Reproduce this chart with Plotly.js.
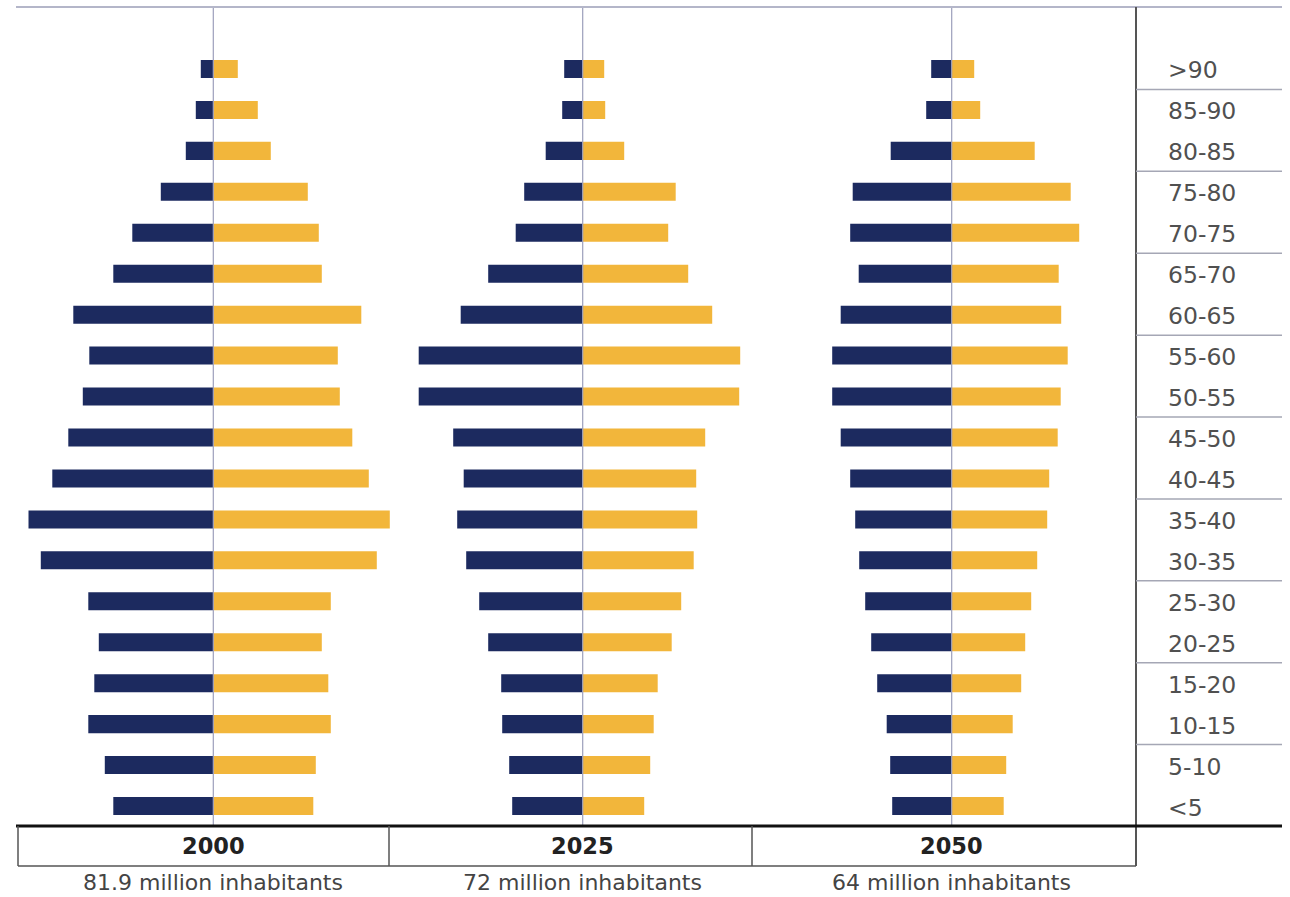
<!DOCTYPE html>
<html>
<head>
<meta charset="utf-8">
<script src="https://cdn.plot.ly/plotly-3.0.1.min.js"></script>
<style>
  html, body { margin: 0; padding: 0; background: #ffffff; }
  #chart { width: 1290px; height: 897px; }
</style>
</head>
<body>
<div id="chart"></div>
<script>
// Age groups, oldest at the top
const ageGroups = [">90", "85-90", "80-85", "75-80", "70-75", "65-70", "60-65", "55-60", "50-55",
  "45-50", "40-45", "35-40", "30-35", "25-30", "20-25", "15-20", "10-15", "5-10", "<5"];

// Population per age group, in thousands (left side / right side of each pyramid)
const men2000   = [250, 350, 550, 1050, 1620, 2000, 2800, 2480, 2610, 2900, 3220, 3700, 3450, 2500, 2290, 2380, 2500, 2170, 2000];
const women2000 = [490, 890, 1150, 1890, 2110, 2170, 2960, 2490, 2530, 2780, 3110, 3530, 3270, 2350, 2170, 2300, 2350, 2050, 2000];
const men2025   = [370, 410, 740, 1170, 1340, 1890, 2440, 3280, 3280, 2590, 2380, 2510, 2330, 2070, 1890, 1630, 1610, 1470, 1410];
const women2025 = [430, 450, 830, 1860, 1710, 2110, 2590, 3150, 3130, 2450, 2270, 2290, 2220, 1970, 1780, 1500, 1420, 1350, 1230];
const men2050   = [410, 510, 1220, 1980, 2030, 1860, 2220, 2390, 2390, 2220, 2030, 1930, 1850, 1730, 1610, 1490, 1300, 1230, 1190];
const women2050 = [450, 570, 1660, 2380, 2550, 2140, 2190, 2320, 2180, 2120, 1950, 1910, 1710, 1590, 1470, 1390, 1220, 1090, 1040];

const years = ["2000", "2025", "2050"];
const totals = ["81.9 million inhabitants", "72 million inhabitants", "64 million inhabitants"];

const W = 1290, H = 897;
const NAVY = "#1c2a5f", GOLD = "#f2b63b";
const fx = px => px / W;
const fy = py => 1 - py / H;

const series = [[men2000, women2000], [men2025, women2025], [men2050, women2050]];
const axisIds = ["x", "x2", "x3"];
const centers = [213.3, 582.7, 951.7];
const half = 185;
const RANGE = 3700;

const traces = [];
series.forEach(([m, w], i) => {
  traces.push({
    type: "bar", orientation: "h", xaxis: axisIds[i], yaxis: "y",
    y: ageGroups, x: m.map(v => -v), width: 0.44,
    marker: { color: NAVY }, hoverinfo: "skip", showlegend: false
  });
  traces.push({
    type: "bar", orientation: "h", xaxis: axisIds[i], yaxis: "y",
    y: ageGroups, x: w, width: 0.44,
    marker: { color: GOLD }, hoverinfo: "skip", showlegend: false
  });
});

const xBase = {
  range: [-RANGE, RANGE], showgrid: false, zeroline: false,
  showticklabels: false, ticks: "", showline: false, fixedrange: true
};

const layout = {
  width: W, height: H,
  margin: { l: 0, r: 0, t: 0, b: 0 },
  paper_bgcolor: "#ffffff", plot_bgcolor: "rgba(0,0,0,0)",
  barmode: "relative",
  showlegend: false,
  font: { family: "DejaVu Sans, sans-serif", color: "#444" },
  yaxis: {
    type: "category", categoryarray: ageGroups, categoryorder: "array",
    range: [18.5, -0.5], domain: [fy(826.5), fy(48.5)],
    showgrid: false, zeroline: false, showticklabels: false, ticks: "", showline: false
  },
  shapes: [],
  annotations: []
};

axisIds.forEach((id, i) => {
  const key = i === 0 ? "xaxis" : "xaxis" + (i + 1);
  layout[key] = Object.assign({}, xBase, {
    domain: [fx(centers[i] - half), fx(centers[i] + half)], anchor: "y"
  });
  // centre line of each pyramid
  layout.shapes.push({
    type: "line", xref: id, yref: "paper", x0: 0, x1: 0, y0: fy(7), y1: fy(826),
    line: { color: "#9c9fbb", width: 1.2 }, layer: "above"
  });
  // year caption and total population
  layout.annotations.push({
    xref: id, yref: "paper", x: 0, y: fy(846), text: "<b>" + years[i] + "</b>",
    showarrow: false, xanchor: "center", yanchor: "middle",
    font: { size: 22.5, color: "#222", family: "DejaVu Sans, sans-serif" }
  });
  layout.annotations.push({
    xref: id, yref: "paper", x: 0, y: fy(882), text: totals[i],
    showarrow: false, xanchor: "center", yanchor: "middle", borderpad: 0,
    font: { size: 22, color: "#444", family: "DejaVu Sans, sans-serif" }
  });
});

// frame lines
const pl = (x0, y0, x1, y1, color, width) => layout.shapes.push({
  type: "line", xref: "paper", yref: "paper",
  x0: fx(x0), x1: fx(x1), y0: fy(y0), y1: fy(y1),
  line: { color: color, width: width }, layer: "above"
});
pl(16, 7, 1282, 7, "#b4b6c9", 2);          // top rule
pl(1136, 7, 1136, 866, "#555555", 2);      // right divider
pl(16, 826, 1282, 826, "#111111", 3);      // base rule
pl(18, 866, 1136, 866, "#555555", 1.5);    // caption box bottom
pl(18, 826, 18, 866, "#555555", 1.5);
pl(389, 826, 389, 866, "#555555", 1.5);
pl(752, 826, 752, 866, "#555555", 1.5);

// separators between pairs of age groups in the label column
for (let k = 0; k <= 16; k += 2) {
  layout.shapes.push({
    type: "line", xref: "paper", yref: "y",
    x0: fx(1136), x1: fx(1282), y0: k + 0.5, y1: k + 0.5,
    line: { color: "#a5a7b5", width: 1.5 }
  });
}

// age group labels
ageGroups.forEach(a => {
  layout.annotations.push({
    xref: "paper", yref: "y", x: fx(1166), y: a, text: a,
    showarrow: false, xanchor: "left", yanchor: "middle", yshift: -1.5,
    font: { size: 23.5, color: "#505050", family: "DejaVu Sans, sans-serif" }
  });
});

Plotly.newPlot("chart", traces, layout, { displayModeBar: false, staticPlot: true });
</script>
</body>
</html>
